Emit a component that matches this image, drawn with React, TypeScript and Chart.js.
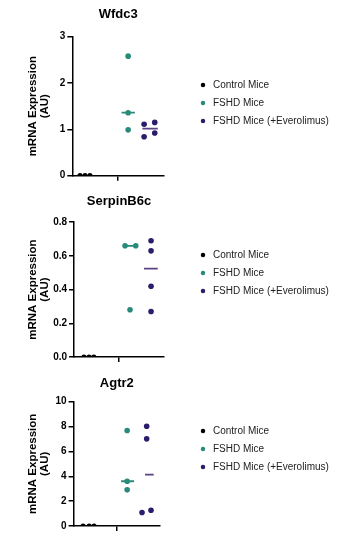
import React, { useEffect, useRef } from 'react';
import { Chart, registerables } from 'chart.js';

Chart.register(...registerables);

const FONT = "'Liberation Sans', Arial, Helvetica, sans-serif";

// ---- shared labels ----
const groupLabels = ['Control Mice', 'FSHD Mice', 'FSHD Mice (+Everolimus)'];
const yAxisTitle = ['mRNA Expression', '(AU)'];
const groupColors = ['#000000', '#288b79', '#2d1b6b'];
const medianColors = ['#288b79', '#5b4185'];

// ---- Wfdc3 ----
const wfdc3Control = [0, 0, 0];
const wfdc3Fshd = [2.58, 1.36, 0.99];
const wfdc3Ever = [1.11, 1.15, 0.84, 0.92];
const wfdc3ControlX = [0.84, 1.38, 1.92];
const wfdc3FshdX = [6.09, 6.09, 6.09];
const wfdc3EverX = [7.83, 8.99, 7.83, 8.99];

// ---- SerpinB6c ----
const serpinControl = [0, 0, 0];
const serpinFshd = [0.66, 0.66, 0.28];
const serpinEver = [0.69, 0.63, 0.42, 0.27];
const serpinControlX = [1.1, 1.67, 2.2];
const serpinFshdX = [5.67, 6.86, 6.22];
const serpinEverX = [8.56, 8.56, 8.56, 8.56];

// ---- Agtr2 ----
const agtr2Control = [0, 0, 0];
const agtr2Fshd = [7.68, 3.6, 2.91];
const agtr2Ever = [8.02, 7.01, 1.09, 1.27];
const agtr2ControlX = [1.1, 1.8, 2.37];
const agtr2FshdX = [6.2, 6.2, 6.2];
const agtr2EverX = [8.46, 8.46, 7.92, 8.96];

function median(values: number[]) {
  const s = [...values].sort((a, b) => a - b);
  const n = s.length;
  return n % 2 ? s[(n - 1) / 2] : (s[n / 2 - 1] + s[n / 2]) / 2;
}

const legendPlacement = {
  id: 'legendPlacement',
  beforeLayout(chart: any, _args: any, opts: any) {
    const lg = chart.legend;
    if (lg && !lg.__patched) {
      const orig = lg.fit;
      lg.fit = function () {
        orig.call(this);
        this.width = opts.width;
      };
      lg.__patched = true;
    }
  },
  afterLayout(chart: any, _args: any, opts: any) {
    const lg = chart.legend;
    if (lg) {
      lg.left = opts.left;
      lg.right = opts.left + 160;
      lg.top = opts.top;
    }
  },
};

const panels = [
  {
    title: 'Wfdc3',
    control: wfdc3Control, fshd: wfdc3Fshd, ever: wfdc3Ever,
    cx: wfdc3ControlX, fx: wfdc3FshdX, ex: wfdc3EverX,
    fMed: [5.37, 6.82], eMed: [7.65, 9.32],
    yMax: 3, yStep: 1, decimals: 0,
    top: 0, height: 186, chartRight: 164,
    titlePad: { top: 6.2, bottom: 14.9 }, yTitlePadBottom: 7.5, padBottom: 5.3,
    legendTop: 72,
  },
  {
    title: 'SerpinB6c',
    control: serpinControl, fshd: serpinFshd, ever: serpinEver,
    cx: serpinControlX, fx: serpinFshdX, ex: serpinEverX,
    fMed: [5.67, 6.9], eMed: [7.78, 9.3],
    yMax: 0.8, yStep: 0.2, decimals: 1,
    top: 186, height: 180, chartRight: 164,
    titlePad: { top: 7.5, bottom: 13.1 }, yTitlePadBottom: 0.9, padBottom: 4,
    legendTop: 56,
  },
  {
    title: 'Agtr2',
    control: agtr2Control, fshd: agtr2Fshd, ever: agtr2Ever,
    cx: agtr2ControlX, fx: agtr2FshdX, ex: agtr2EverX,
    fMed: [5.5, 7.0], eMed: [8.27, 9.27],
    yMax: 10, yStep: 2, decimals: 0,
    top: 366, height: 168, chartRight: 160,
    titlePad: { top: 9.5, bottom: 10.6 }, yTitlePadBottom: 3.2, padBottom: 1.3,
    legendTop: 52,
  },
];

type Panel = typeof panels[number];

function PanelChart({ p }: { p: Panel }) {
  const ref = useRef<HTMLCanvasElement>(null);
  useEffect(() => {
    if (!ref.current) return;
    const toPts = (vals: number[], xs: number[]) => vals.map((v, i) => ({ x: xs[i], y: v }));
    const fm = median(p.fshd);
    const em = median(p.ever);
    const chart = new Chart(ref.current, {
      type: 'scatter',
      data: {
        datasets: [
          { label: groupLabels[0], data: toPts(p.control, p.cx), backgroundColor: groupColors[0], borderColor: groupColors[0], pointRadius: 2.6, borderWidth: 0, pointBorderWidth: 0, pointStyle: 'circle' },
          { label: groupLabels[1], data: toPts(p.fshd, p.fx), backgroundColor: groupColors[1], borderColor: groupColors[1], pointRadius: 2.8, borderWidth: 0, pointBorderWidth: 0, pointStyle: 'circle' },
          { label: groupLabels[2], data: toPts(p.ever, p.ex), backgroundColor: groupColors[2], borderColor: groupColors[2], pointRadius: 2.8, borderWidth: 0, pointBorderWidth: 0, pointStyle: 'circle' },
          { label: 'median-fshd', data: [{ x: p.fMed[0], y: fm }, { x: p.fMed[1], y: fm }], showLine: true, borderColor: medianColors[0], borderWidth: 1.8, pointRadius: 0 },
          { label: 'median-ever', data: [{ x: p.eMed[0], y: em }, { x: p.eMed[1], y: em }], showLine: true, borderColor: medianColors[1], borderWidth: 1.8, pointRadius: 0 },
        ] as any,
      },
      options: {
        animation: false,
        responsive: false,
        events: [],
        layout: { padding: { left: 23.25, right: 0, top: 0, bottom: p.padBottom } },
        plugins: {
          tooltip: { enabled: false },
          title: {
            display: true,
            text: p.title,
            fullSize: false,
            color: '#000',
            font: { family: FONT, size: 13, weight: 'bold' },
            padding: p.titlePad,
          },
          legend: {
            position: 'right',
            align: 'start',
            labels: {
              usePointStyle: true,
              boxWidth: 10,
              boxHeight: 3.2,
              padding: 8,
              color: '#222',
              font: { family: FONT, size: 10 },
              filter: (item: any) => item.datasetIndex < 3,
            },
          },
          legendPlacement: { width: 346 - p.chartRight, left: 190, top: p.legendTop },
        } as any,
        scales: {
          x: {
            type: 'linear',
            min: 0,
            max: 10,
            afterBuildTicks: (scale: any) => { scale.ticks = [{ value: 5 }]; },
            ticks: { display: false },
            grid: { display: true, drawOnChartArea: false, drawTicks: true, tickLength: 5, color: '#000', tickColor: '#000', lineWidth: 1.5 },
            border: { display: true, color: '#000', width: 1.5 },
          },
          y: {
            type: 'linear',
            min: 0,
            max: p.yMax,
            ticks: {
              stepSize: p.yStep,
              color: '#000',
              padding: 2,
              font: { family: FONT, size: 10, weight: 'bold' },
              callback: (v: any) => Number(v).toFixed(p.decimals),
            },
            grid: { display: true, drawOnChartArea: false, drawTicks: true, tickLength: 5, color: '#000', tickColor: '#000', lineWidth: 1.5 },
            border: { display: true, color: '#000', width: 1.5 },
            title: {
              display: true,
              text: yAxisTitle,
              color: '#000',
              font: { family: FONT, size: 11.5, weight: 'bold', lineHeight: 1.0 },
              padding: { top: 4, bottom: p.yTitlePadBottom },
            },
          },
        },
      },
      plugins: [legendPlacement as any],
    });
    return () => chart.destroy();
  }, [p]);
  return (
    <canvas
      ref={ref}
      width={346}
      height={p.height}
      style={{ position: 'absolute', left: 0, top: p.top, width: 346, height: p.height }}
    />
  );
}

export default function App() {
  return (
    <div style={{ position: 'absolute', left: 0, top: 0, width: 346, height: 534, background: '#fff' }}>
      {panels.map((p) => (
        <PanelChart key={p.title} p={p} />
      ))}
    </div>
  );
}
